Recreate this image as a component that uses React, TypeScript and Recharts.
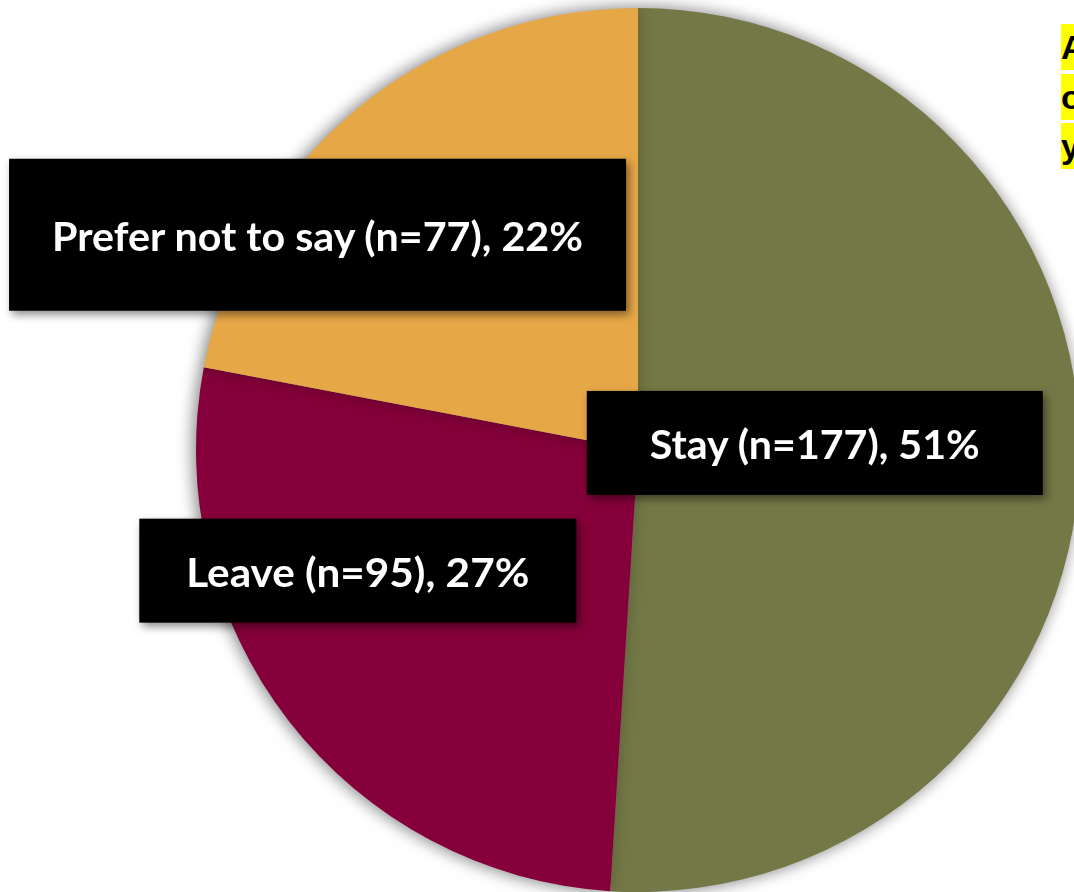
import React from 'react';
import { PieChart, Pie, Cell } from 'recharts';

const categories = ['Stay', 'Leave', 'Prefer not to say'];
const counts = [177, 95, 77];
const percents = [51, 27, 22];
const sliceColors = ['#737846', '#85003A', '#E6A747'];
const sideNote = ['At', 'of', 'yo'];

const data = categories.map((name, i) => ({ name, value: percents[i], n: counts[i] }));

// label box placement: offset from pie centre as a fraction of the radius, box size, text width
const LABEL_BOX = [
  { dx: 0.4, dy: -0.016, w: 456, h: 104, tw: 330 },
  { dx: -0.634, dy: 0.273, w: 437, h: 104, tw: 343 },
  { dx: -0.725, dy: -0.487, w: 617, h: 152, tw: 531 },
];

const renderLabel = (props: any) => {
  const { cx, cy, outerRadius, index } = props;
  const b = LABEL_BOX[index];
  const d = data[index];
  const x = cx + b.dx * outerRadius;
  const y = cy + b.dy * outerRadius;
  return (
    <g key={`lbl-${index}`}>
      <rect
        x={x - b.w / 2} y={y - b.h / 2} width={b.w} height={b.h} fill="#000"
        style={{ filter: 'drop-shadow(3px 4px 4px rgba(0,0,0,0.45))' }}
      />
      <text
        x={x} y={y + 16.5} textAnchor="middle" fill="#fff"
        fontFamily="Lato, 'Noto Sans', sans-serif" fontWeight={700} fontSize={40}
        textLength={b.tw} lengthAdjust="spacingAndGlyphs"
      >
        {`${d.name} (n=${d.n}), ${d.value}%`}
      </text>
    </g>
  );
};

export default function App() {
  return (
    <div style={{ position: 'absolute', left: 0, top: 0, width: 1074, height: 892, overflow: 'hidden', background: '#fff' }}>
      <style>{'.pie-main{filter:drop-shadow(-2px 0 8px rgba(0,0,0,0.28));}'}</style>
      <PieChart width={1074} height={892} margin={{ top: 0, right: 0, bottom: 0, left: 0 }}>
        <Pie
          className="pie-main"
          data={data} dataKey="value" nameKey="name"
          cx={638} cy={450} outerRadius={442}
          startAngle={90} endAngle={-270}
          stroke="none" labelLine={false} label={renderLabel}
          isAnimationActive={false}
        >
          {data.map((d, i) => (
            <Cell key={d.name} fill={sliceColors[i]} />
          ))}
        </Pie>
      </PieChart>
      {sideNote.map((t, i) => (
        <div
          key={i}
          style={{
            position: 'absolute', left: 1061, top: 24 + i * 49.5, height: 46, paddingRight: 4,
            background: '#FFFF00', color: '#000', whiteSpace: 'nowrap',
            fontFamily: "'Liberation Sans', Arial, sans-serif", fontWeight: 700, fontSize: 34, lineHeight: '46px',
          }}
        >
          {t}
        </div>
      ))}
    </div>
  );
}
